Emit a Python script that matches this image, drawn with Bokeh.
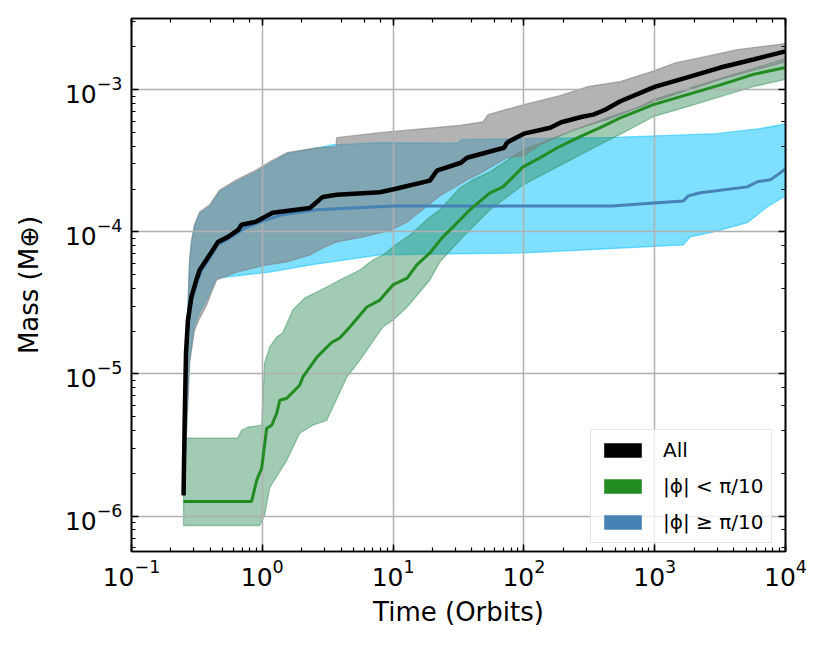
from bokeh.plotting import figure
from bokeh.models import LogAxis, Legend, LegendItem, CustomJSTickFormatter
from bokeh.embed import file_html
from bokeh.resources import INLINE

# ---------------- data ----------------
# All: median
t_all = [0.250, 0.255, 0.261, 0.270, 0.287, 0.313, 0.332, 0.373, 0.419, 0.458, 0.547, 0.654,
         0.694, 0.900, 1.007, 1.20, 2.31, 2.90, 3.71, 7.92, 10.3, 19.1, 21.6, 33.0, 36.7,
         70.5, 74.3, 84.1, 100, 159, 193, 279, 339, 418, 546, 1011, 1778, 3180, 5677, 10000]
m_all = [1.40e-6, 4.72e-6, 1.40e-5, 2.39e-5, 3.48e-5, 4.58e-5, 5.39e-5, 6.34e-5, 7.45e-5, 8.49e-5,
         9.21e-5, 1.03e-4, 1.12e-4, 1.18e-4, 1.25e-4, 1.36e-4, 1.47e-4, 1.76e-4, 1.82e-4, 1.90e-4,
         2.00e-4, 2.29e-4, 2.69e-4, 3.06e-4, 3.32e-4, 3.90e-4, 4.24e-4, 4.52e-4, 4.90e-4, 5.40e-4,
         5.90e-4, 6.45e-4, 6.67e-4, 7.22e-4, 8.29e-4, 1.05e-3, 1.22e-3, 1.43e-3, 1.63e-3, 1.86e-3]
# All: upper envelope
t_all_hi = [0.250, 0.259, 0.266, 0.278, 0.288, 0.303, 0.332, 0.396, 0.472, 0.637, 0.906, 1.14,
            1.54, 2.61, 3.65, 3.71, 7.92, 30.8, 48.7, 53.2, 100, 189, 310, 546, 976, 1440,
            2529, 4288, 10000]
m_all_hi = [1.40e-6, 6.53e-6, 2.04e-5, 6.34e-5, 8.77e-5, 1.12e-4, 1.38e-4, 1.55e-4, 1.97e-4,
            2.32e-4, 2.73e-4, 3.11e-4, 3.60e-4, 3.90e-4, 3.96e-4, 4.59e-4, 4.98e-4, 5.57e-4,
            5.94e-4, 6.67e-4, 7.84e-4, 9.07e-4, 1.05e-3, 1.14e-3, 1.35e-3, 1.54e-3, 1.72e-3,
            1.91e-3, 2.11e-3]
# All: lower envelope
t_all_lo = [0.250, 0.259, 0.268, 0.278, 0.303, 0.332, 0.375, 0.410, 0.448, 0.637, 1.08, 1.54,
            2.31, 2.90, 3.71, 5.87, 7.92, 9.45, 12.8, 22.8, 36.7, 47.0, 74.3, 100, 133, 238,
            434, 776, 976, 3180, 10000]
m_all_lo = [1.40e-6, 2.90e-6, 5.30e-6, 1.19e-5, 2.04e-5, 2.47e-5, 3.05e-5, 3.77e-5, 4.58e-5,
            5.21e-5, 5.85e-5, 6.14e-5, 6.88e-5, 7.71e-5, 8.49e-5, 9.21e-5, 9.82e-5, 1.02e-4,
            1.17e-4, 1.79e-4, 2.32e-4, 2.60e-4, 3.32e-4, 3.43e-4, 4.09e-4, 5.22e-4, 6.15e-4,
            7.59e-4, 8.22e-4, 1.18e-3, 1.57e-3]

# |phi| < pi/10: median
t_in = [0.250, 0.829, 0.906, 0.989, 1.08, 1.18, 1.29, 1.36, 1.54, 1.93, 2.04, 2.61, 3.40, 3.91,
        4.67, 6.30, 7.92, 9.96, 12.8, 15.2, 19.1, 24.0, 28.7, 38.7, 55.1, 69.3, 98.6, 133, 180,
        269, 383, 546, 976, 1778, 3180, 5677, 10000]
m_in = [1.27e-6, 1.27e-6, 1.79e-6, 2.17e-6, 4.15e-6, 4.36e-6, 5.30e-6, 6.53e-6, 6.75e-6, 8.33e-6,
        9.49e-6, 1.31e-5, 1.67e-5, 1.79e-5, 2.14e-5, 2.96e-5, 3.31e-5, 4.23e-5, 4.73e-5, 5.85e-5,
        7.10e-5, 9.21e-5, 1.08e-4, 1.43e-4, 1.88e-4, 2.07e-4, 2.86e-4, 3.32e-4, 3.90e-4, 4.67e-4,
        5.40e-4, 6.32e-4, 7.84e-4, 9.22e-4, 1.08e-3, 1.28e-3, 1.43e-3]
t_in_hi = [0.250, 0.648, 0.695, 0.773, 0.989, 1.04, 1.14, 1.29, 1.43, 1.71, 2.11, 3.11, 3.91,
           5.57, 7.00, 8.36, 9.96, 13.5, 19.1, 22.8, 32.5, 40.8, 55.1, 98.6, 180, 284, 434, 776,
           976, 3180, 10000]
m_in_hi = [3.53e-6, 3.53e-6, 4.02e-6, 4.22e-6, 4.36e-6, 1.19e-5, 1.55e-5, 1.82e-5, 1.94e-5,
           2.82e-5, 3.42e-5, 4.09e-5, 4.58e-5, 5.39e-5, 6.34e-5, 6.88e-5, 7.83e-5, 9.51e-5,
           1.27e-4, 1.43e-4, 2.04e-4, 2.32e-4, 2.64e-4, 3.78e-4, 4.67e-4, 5.48e-4, 6.35e-4,
           7.59e-4, 8.51e-4, 1.20e-3, 1.65e-3]
t_in_lo = [0.250, 0.955, 1.04, 1.14, 1.54, 1.93, 2.43, 3.11, 4.43, 5.57, 8.36, 9.96, 12.8, 19.1,
           22.8, 32.5, 55.1, 98.6, 180, 321, 575, 976, 1778, 3180, 5677, 10000]
m_in_lo = [8.59e-7, 8.59e-7, 1.01e-6, 1.59e-6, 2.47e-6, 3.83e-6, 4.36e-6, 4.72e-6, 9.49e-6,
           1.25e-5, 2.14e-5, 2.39e-5, 2.96e-5, 4.58e-5, 6.14e-5, 8.77e-5, 1.43e-4, 2.14e-4,
           2.86e-4, 3.78e-4, 4.98e-4, 6.45e-4, 7.59e-4, 8.93e-4, 1.05e-3, 1.18e-3]

# |phi| >= pi/10: median
t_out = [0.250, 0.259, 0.268, 0.288, 0.315, 0.344, 0.396, 0.456, 0.563, 0.733, 1.007, 1.43,
         2.61, 9.96, 473, 925, 1656, 1808, 2235, 5108, 6093, 7667, 10000]
m_out = [1.40e-6, 9.04e-6, 2.04e-5, 3.31e-5, 4.36e-5, 5.39e-5, 6.55e-5, 8.09e-5, 9.06e-5,
         1.06e-4, 1.19e-4, 1.32e-4, 1.43e-4, 1.52e-4, 1.52e-4, 1.59e-4, 1.65e-4, 1.79e-4,
         1.88e-4, 2.07e-4, 2.25e-4, 2.32e-4, 2.77e-4]
t_out_hi = [0.250, 0.259, 0.266, 0.278, 0.288, 0.303, 0.332, 0.396, 0.472, 0.637, 0.906, 1.14,
            1.54, 3.45, 7.92, 30.8, 33.0, 95, 499, 2965, 6310, 10000]
m_out_hi = [1.40e-6, 6.53e-6, 2.04e-5, 6.14e-5, 8.49e-5, 1.08e-4, 1.34e-4, 1.50e-4, 1.91e-4,
            2.25e-4, 2.64e-4, 3.01e-4, 3.54e-4, 4.09e-4, 4.23e-4, 4.20e-4, 4.45e-4, 4.52e-4,
            4.62e-4, 4.90e-4, 5.31e-4, 5.75e-4]
t_out_lo = [0.250, 0.259, 0.268, 0.278, 0.303, 0.332, 0.375, 0.410, 0.448, 0.637, 1.14, 2.34,
            7.92, 100, 279, 1656, 1870, 2812, 5108, 5677, 7271, 10000]
m_out_lo = [1.40e-6, 2.47e-6, 6.53e-6, 1.25e-5, 2.21e-5, 2.73e-5, 3.31e-5, 4.03e-5, 4.73e-5,
            4.89e-5, 5.21e-5, 5.85e-5, 6.88e-5, 7.10e-5, 7.45e-5, 8.09e-5, 9.21e-5, 9.98e-5,
            1.16e-4, 1.25e-4, 1.50e-4, 1.79e-4]

labels = ["All", "|ϕ| < π/10", "|ϕ| ≥ π/10"]
legend_colors = ["black", "forestgreen", "steelblue"]

# ---------------- figure ----------------
FONT = "DejaVu Sans"
p = figure(width=820, height=640, x_axis_type="log", y_axis_type="log",
           x_range=(0.1, 1e4), y_range=(5.64e-7, 3.165e-3),
           output_backend="svg", toolbar_location=None,
           min_border_left=131, min_border_right=35, min_border_top=18, min_border_bottom=89,
           x_axis_label="Time (Orbits)", y_axis_label="Mass (M⊕)")
p.background_fill_color = "white"
p.border_fill_color = "white"
p.outline_line_color = "black"
p.outline_line_width = 1.6

bottom_ax = p.below[0]
left_ax = p.left[0]

blank = CustomJSTickFormatter(code="return '';")
top_ax = LogAxis(formatter=blank)
right_ax = LogAxis(formatter=blank)
p.add_layout(top_ax, "above")
p.add_layout(right_ax, "right")

for ax in [bottom_ax, left_ax, top_ax, right_ax]:
    ax.major_tick_in = 7
    ax.major_tick_out = 0
    ax.minor_tick_in = 4
    ax.minor_tick_out = 0
    ax.major_tick_line_width = 1.5
    ax.minor_tick_line_width = 1.2
    ax.major_tick_line_color = "black"
    ax.minor_tick_line_color = "black"
    ax.axis_line_width = 1.6
    ax.axis_line_color = "black"
    ax.major_label_text_font = FONT
    ax.major_label_text_font_size = "25px"
    ax.major_label_text_color = "black"
    ax.axis_label_text_font = FONT
    ax.axis_label_text_font_size = "26px"
    ax.axis_label_text_font_style = "normal"
    ax.axis_label_text_color = "black"

for ax in [top_ax, right_ax]:
    ax.major_label_text_font_size = "2px"
    ax.major_label_standoff = 0

bottom_ax.major_label_standoff = 7
bottom_ax.axis_label_standoff = 8
left_ax.major_label_standoff = 9
left_ax.axis_label_standoff = 18

p.xgrid.grid_line_color = "#b0b0b0"
p.ygrid.grid_line_color = "#b0b0b0"
p.xgrid.grid_line_width = 1.5
p.ygrid.grid_line_width = 1.5


def band(th, mh, tl, ml, color, alpha):
    xs = list(th) + list(tl)[::-1]
    ys = list(mh) + list(ml)[::-1]
    r = p.patch(xs, ys, fill_color=color, fill_alpha=alpha,
                line_color=color, line_alpha=alpha, line_width=1.3)
    r.level = "image"
    return r


band(t_out_hi, m_out_hi, t_out_lo, m_out_lo, "deepskyblue", 0.5)
band(t_in_hi, m_in_hi, t_in_lo, m_in_lo, "seagreen", 0.45)
band(t_all_hi, m_all_hi, t_all_lo, m_all_lo, "gray", 0.6)

p.line(t_out, m_out, line_color="steelblue", line_width=3)
p.line(t_in, m_in, line_color="forestgreen", line_width=3)
p.line(t_all, m_all, line_color="black", line_width=4.5)

# legend proxies: zero-area quads at each series' first point (only used for swatches)
proxies = []
for c, tt, mm in zip(legend_colors, [t_all, t_in, t_out], [m_all, m_in, m_out]):
    proxies.append(p.quad(left=tt[:1], right=tt[:1], top=mm[:1], bottom=mm[:1],
                          fill_color=c, line_color=c, line_alpha=0))

legend = Legend(items=[LegendItem(label=l, renderers=[r]) for l, r in zip(labels, proxies)],
                location=(459, 8))
legend.glyph_width = 47
legend.glyph_height = 18
legend.label_standoff = 17
legend.label_text_font = FONT
legend.label_text_font_size = "20px"
legend.label_text_color = "black"
legend.label_height = 18
legend.padding = 8
legend.spacing = 12
legend.margin = 0
legend.border_line_color = "#cccccc"
legend.border_line_width = 1.5
legend.background_fill_alpha = 0.8
p.add_layout(legend)

open("out.html", "w").write(file_html(p, INLINE))
